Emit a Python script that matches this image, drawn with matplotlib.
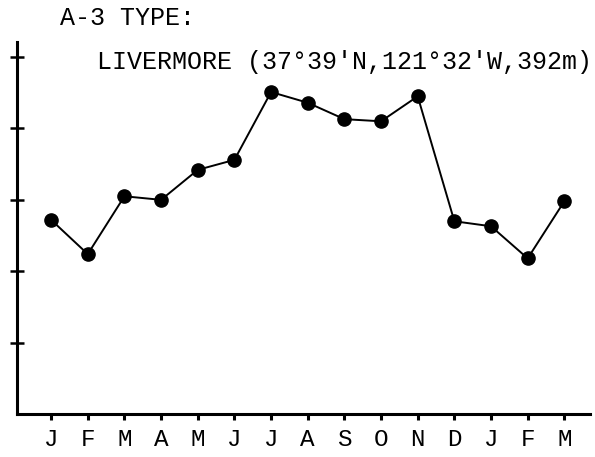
import matplotlib
matplotlib.use("Agg")
import matplotlib.pyplot as plt

# monthly values (arbitrary units, axis ticks 0..5)
months = ["J", "F", "M", "A", "M", "J", "J", "A", "S", "O", "N", "D", "J", "F", "M"]
values = [2.72, 2.24, 3.05, 3.00, 3.42, 3.56, 4.51, 4.36, 4.13, 4.10, 4.45,
          2.70, 2.63, 2.18, 2.98]
y_ticks = [1, 2, 3, 4, 5]

type_label = "A-3 TYPE:"
station_label = "LIVERMORE (37°39'N,121°32'W,392m)"

font = "Liberation Mono"

fig = plt.figure(figsize=(5.95, 4.57), dpi=100)
ax = fig.add_axes([0.0286, 0.094, 0.963, 0.814])

x = list(range(len(months)))
ax.plot(x, values, color="black", linewidth=1.4, marker="o",
        markersize=9.5, markerfacecolor="black", markeredgecolor="black")

ax.set_xlim(-0.93, 14.7)
ax.set_ylim(0, 5.21)

# axes look: only left and bottom lines, thick
for side in ["top", "right"]:
    ax.spines[side].set_visible(False)
for side in ["left", "bottom"]:
    ax.spines[side].set_linewidth(2.2)

ax.set_yticks(y_ticks)
ax.set_yticklabels([])
ax.tick_params(axis="y", direction="inout", length=10, width=1.8)

ax.set_xticks(x)
ax.set_xticklabels(months, fontfamily=font, fontsize=17.5)
ax.tick_params(axis="x", direction="out", length=4, width=2.2, pad=6)

fig.text(60 / 595, 1 - 18 / 457, type_label, fontfamily=font, fontsize=18,
         ha="left", va="center")
fig.text(97 / 595, 1 - 62 / 457, station_label, fontfamily=font, fontsize=18,
         ha="left", va="center")

fig.savefig("out.png", dpi=100)
plt.close(fig)
